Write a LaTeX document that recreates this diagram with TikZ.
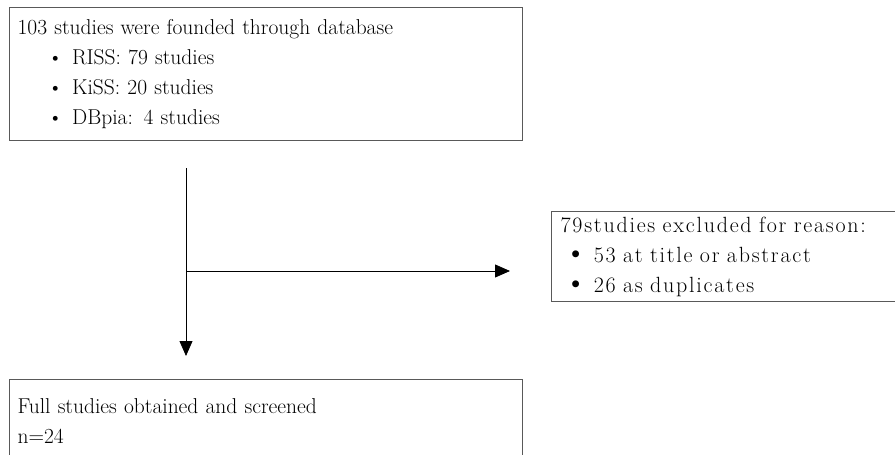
\documentclass[tikz,border=0pt]{standalone}
\usepackage{fontspec}
\newfontfamily\wideface[LetterSpace=8]{Latin Modern Roman}
\usetikzlibrary{arrows.meta}
\tikzset{
  studyBox/.style={draw=black!65, line width=1.2pt, anchor=north west, align=left,
    font=\fontsize{21.5}{30}\selectfont, inner ysep=4pt},
  flowArrow/.style={draw=black, line width=0.8pt, -{Triangle[length=15pt,width=13pt]}}
}
\newcommand{\smallItem}{\hspace*{30pt}\textbullet\hspace{9pt}}
\newcommand{\bigItem}{\hspace*{4pt}\scalebox{1.4}{\textbullet}\hspace{7pt}}
\begin{document}
\begin{tikzpicture}[x=1pt,y=-1pt]
    \useasboundingbox (0,0) rectangle (895,455);
    \clip (0,0) rectangle (895,455);

    % boxes
    \node[studyBox, minimum width=513, minimum height=133, text width=497, inner xsep=8pt] (found) at (9,7)
      {103 studies were founded through database\\
       \smallItem RISS: 79 studies\\
       \smallItem KiSS: 20 studies\\
       \smallItem DBpia: 4 studies};
    \node[studyBox, minimum width=370, minimum height=90, text width=352, inner xsep=9pt,
          font=\wideface\fontsize{22}{30}\selectfont] (excluded) at (551,211)
      {79studies excluded for reason:\\
       \bigItem 53 at title or abstract\\
       \bigItem 26 as duplicates};
    \node[studyBox, minimum width=513, minimum height=82, text width=497, inner xsep=8pt] (screened) at (9,379)
      {Full studies obtained and screened\\
       n=24};

    % connectors
    \coordinate (trunkTop) at (186,168);
    \coordinate (split) at (186,271);
    \coordinate (trunkEnd) at (186,356);
    \coordinate (branchEnd) at (510,271);
    \draw[flowArrow] (trunkTop) -- (trunkEnd);
    \draw[flowArrow] (split) -- (branchEnd);
\end{tikzpicture}
\end{document}
